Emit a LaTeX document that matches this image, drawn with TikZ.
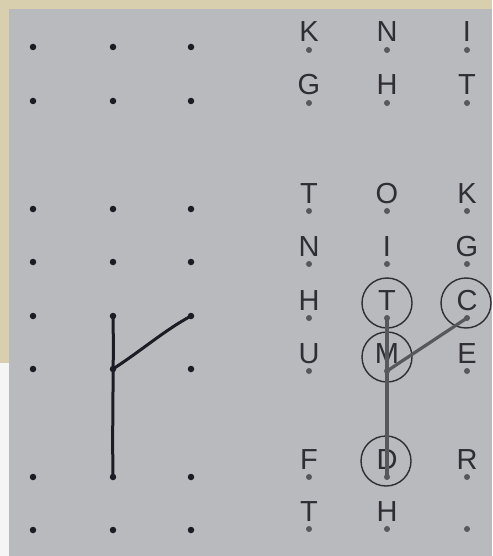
\documentclass[tikz,border=0pt]{standalone}
\usepackage{fontspec}
\setmainfont{Liberation Sans}
\definecolor{paper}{HTML}{B9BABE}
\definecolor{beige}{HTML}{D8CFAE}
\definecolor{ink}{HTML}{1C1C24}
\definecolor{pencil}{HTML}{2E2E34}
\definecolor{grayline}{HTML}{58585C}
\tikzset{
  dotL/.style={circle,fill=ink,inner sep=0pt,minimum size=6.5pt},
  dotR/.style={circle,fill=grayline,inner sep=0pt,minimum size=6pt},
  letter/.style={anchor=base,inner sep=0pt,text=pencil,font=\fontsize{29}{29}\selectfont},
  ring/.style={draw=pencil,line width=1.4pt,circle,inner sep=0pt,minimum size=50pt},
  inkline/.style={draw=ink,line width=3pt,line cap=round},
  grayl/.style={draw=grayline,line width=3.2pt,line cap=round}
}
\begin{document}
\begin{tikzpicture}[x=1pt,y=-1pt]
\useasboundingbox (0,0) rectangle (492,556);
\fill[beige] (0,0) rectangle (492,556);
\fill[white!85!paper] (0,363) rectangle (10,556);
\fill[paper] (9,9) rectangle (492,556);
% left dot grid
\foreach \c/\x in {1/33,2/113,3/191}{
  \foreach \r/\y in {1/47,2/101,3/209,4/262,5/316,6/369,7/477,8/530}{
    \node[dotL] (L\r\c) at (\x,\y) {};
  }
}
\draw[inkline] (L52.center) .. controls (114,360) and (112,420) .. (L72.center);
\draw[inkline] (L62.center) .. controls (145,348) and (165,330) .. (L53.center);
% right dot grid
\foreach \c/\x in {1/309,2/387,3/467}{
  \foreach \r/\y in {1/50,2/103,3/211,4/264,5/318,6/371,7/477,8/529}{
    \node[dotR] (R\r\c) at (\x,\y) {};
  }
}
% letters
\foreach \r/\y/\a/\b/\cc in {1/50/K/N/I,2/103/G/H/T,3/211/T/O/K,4/264/N/I/G,5/318/H/T/C,6/371/U/M/E,7/477/F/D/R}{
  \node[letter] (T\r1) at (309,\y-8) {\a};
  \node[letter] (T\r2) at (387,\y-8) {\b};
  \node[letter] (T\r3) at (467,\y-8) {\cc};
}
\node[letter] (T81) at (309,521) {T};
\node[letter] (T82) at (387,521) {H};
% rings
\node[ring] (C52) at (387,303) {};
\node[ring] (C53) at (466,303) {};
\node[ring] (C62) at (387,357) {};
\node[ring] (C72) at (386,461) {};
% gray connectors
\draw[grayl] (R52.center) -- (R72.center);
\draw[grayl] (R62.center) -- (R53.center);
\end{tikzpicture}
\end{document}
